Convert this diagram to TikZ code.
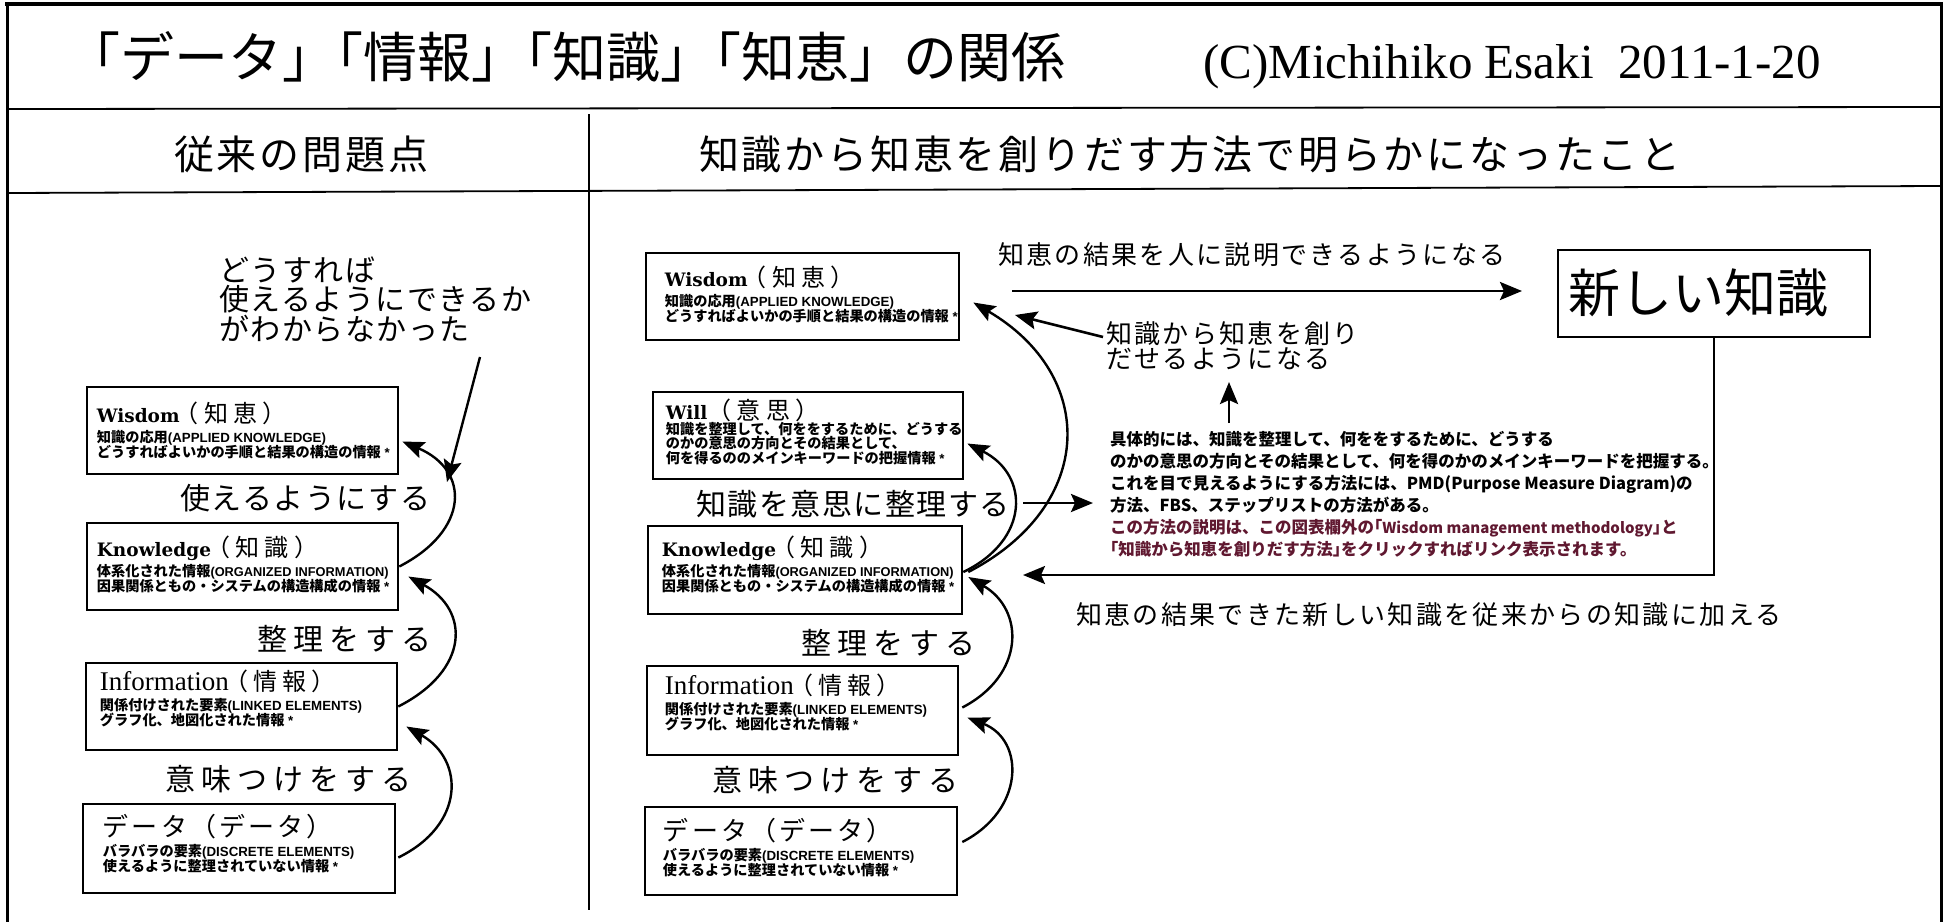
\documentclass[tikz,border=0pt]{standalone}
\usepackage{fontspec}
\setmainfont{Noto Sans CJK JP}
\newfontfamily\jp{Noto Sans CJK JP}
\newfontfamily\jpH[LetterSpace=7]{Noto Sans CJK JP}
\newfontfamily\jpA[LetterSpace=5]{Noto Sans CJK JP}
\newfontfamily\jpB[LetterSpace=20]{Noto Sans CJK JP}
\newfontfamily\jpC[LetterSpace=9]{Noto Sans CJK JP}
\newfontfamily\jpF[LetterSpace=12]{Noto Sans CJK JP}
\newfontfamily\jpP[LetterSpace=22]{Noto Sans CJK JP}
\newfontfamily\lserif{Liberation Serif}
\newfontfamily\dserif{DejaVu Serif}
\newfontfamily\lsans{Liberation Sans}
\usetikzlibrary{arrows.meta,calc}
\definecolor{descred}{RGB}{96,24,48}
\newcommand\fsz[1]{\fontsize{#1pt}{#1pt}\selectfont}
\newcommand\subf{\jp\bfseries\fsz{14.2}}
\newcommand\latb[1]{{\lsans\bfseries\fsz{13.3}#1}}
\newcommand\latn[1]{{\lsans\bfseries\fsz{12.8}#1}}
\newcommand\hk{\kern-.5em}
% title, line 1, line 2 of a box: 20pt from the title to line 1, 14.5pt between lines
\newcommand\boxc[3]{\vtop{\lineskiplimit=-1000pt\lineskip=0pt\baselineskip=20pt\hbox{#1}\hbox{\subf #2}\baselineskip=14.5pt\hbox{\subf #3}}}
\newcommand\bxparen[1]{{\jpP\fsz{24}\kern-.2em（#1）}}
\newcommand\bxtitle[2]{{\dserif\bfseries\fsz{18.5}#1}\bxparen{#2}}
\newcommand\bxinfo{{\lserif\fsz{27}Information}\bxparen{情報}}
\newcommand\bxdata{{\jpF\fsz{26}データ（データ）}}
\begin{document}
\begin{tikzpicture}[x=1pt,y=-1pt,
  kbox/.style={draw, line width=2.6pt, inner sep=0pt},
  txt/.style={inner sep=0pt},
  curv/.style={line width=2.4pt, -{Stealth[length=22pt,width=17pt,inset=4pt]}},
  sarr/.style={line width=2.8pt, -{Stealth[length=22pt,width=18pt,inset=4pt]}},
  rule/.style={line width=1.8pt}]
\fill[white] (0,0) rectangle (1948,921);
\useasboundingbox (0,0) rectangle (1948,921);
% frame and rules
\draw[line width=3pt] (7,930) -- (7,4) -- (1941,4) -- (1941,930);
\draw[line width=4pt] (5,3.5) -- (1943,3.5);
\draw[rule] (7,109) -- (1941,107);
\draw[rule] (7,193) -- (1941,186);
\draw[line width=1.4pt] (589,114) -- (589,910);
% headings
\node[txt, anchor=west] (title) at (66,57) {\jp\fsz{54}「データ」\hk「情報」\hk「知識」\hk「知恵」の関係};
\node[txt, anchor=base west] (copy) at (1203,78) {\lserif\fsz{49}(C)Michihiko Esaki\ \ 2011-1-20};
\node[txt, anchor=west] (hdL) at (174,154) {\jpH\fsz{40}従来の問題点};
\node[txt, anchor=west] (hdR) at (699,154) {\jpH\fsz{40}知識から知恵を創りだす方法で明らかになったこと};
% ---------- left panel ----------
\node[kbox, minimum width=311pt, minimum height=87pt] (wisL) at (242.5,430.5) {};
\node[kbox, minimum width=311pt, minimum height=87pt] (knL) at (242.5,566.5) {};
\node[kbox, minimum width=311pt, minimum height=87pt] (infL) at (241.5,706.5) {};
\node[kbox, minimum width=312pt, minimum height=89pt] (datL) at (239,848.5) {};
\node[txt, anchor=base west] (wisLt) at ($(wisL.north west)+(11,37)$) {\boxc{\bxtitle{Wisdom}{知恵}}{知識の応用\latb{(APPLIED KNOWLEDGE)}}{どうすればよいかの手順と結果の構造の情報\latb{ *}}};
\node[txt, anchor=base west] (knLt) at ($(knL.north west)+(11,35)$) {\boxc{\bxtitle{Knowledge}{知識}}{体系化された情報\latn{(ORGANIZED INFORMATION)}}{因果関係ともの・システムの構造構成の情報\latb{ *}}};
\node[txt, anchor=base west] (infLt) at ($(infL.north west)+(15,29)$) {\boxc{\bxinfo}{関係付けされた要素\latb{(LINKED ELEMENTS)}}{グラフ化、地図化された情報\latb{ *}}};
\node[txt, anchor=base west] (datLt) at ($(datL.north west)+(21,34)$) {\boxc{\bxdata}{バラバラの要素\latb{(DISCRETE ELEMENTS)}}{使えるように整理されていない情報\latb{ *}}};
\node[txt, anchor=base west] (qL) at (219,281) {\vtop{\jpA\fsz{30}\lineskiplimit=-1000pt\baselineskip=29.5pt\hbox{どうすれば}\hbox{使えるようにできるか}\hbox{がわからなかった}}};
\node[txt, anchor=west] (uL) at (180,498) {\jpA\fsz{30}使えるようにする};
\node[txt, anchor=west] (sL) at (257,639) {\jpB\fsz{30}整理をする};
\node[txt, anchor=west] (mL) at (165,779) {\jpB\fsz{30}意味つけをする};
\draw[curv] (knL.east) .. controls (470,530) and (470,470) .. ($(wisL.east)+(3,11)$);
\draw[curv] (infL.east) .. controls (470,670) and (470,610) .. ($(knL.east)+(9,10)$);
\draw[curv] ($(datL.east)+(2,9)$) .. controls (465,825) and (465,760) .. ($(infL.east)+(8,20)$);
\coordinate (qa) at (480,357);
\coordinate (qb) at (447,482);
\draw[sarr, line width=2.4pt] (qa) -- (qb);
% ---------- right panel ----------
\node[kbox, minimum width=313pt, minimum height=87pt] (wisR) at (802.5,296.5) {};
\node[kbox, minimum width=310pt, minimum height=87pt] (willR) at (808,435.5) {};
\node[kbox, minimum width=314pt, minimum height=88pt] (knR) at (805,570) {};
\node[kbox, minimum width=311pt, minimum height=89pt] (infR) at (802.5,710.5) {};
\node[kbox, minimum width=312pt, minimum height=88pt] (datR) at (801,851) {};
\node[txt, anchor=base west] (wisRt) at ($(wisR.north west)+(20,35)$) {\boxc{\bxtitle{Wisdom}{知恵}}{知識の応用\latb{(APPLIED KNOWLEDGE)}}{どうすればよいかの手順と結果の構造の情報\latb{ *}}};
\node[txt, anchor=base west] (willRt) at ($(willR.north west)+(14,29)$) {\vtop{\lineskiplimit=-1000pt\lineskip=0pt\baselineskip=21pt\hbox{{\dserif\bfseries\fsz{18.5}Will}{\jpP\fsz{24}（意思）}}\baselineskip=14.5pt\hbox{\subf 知識を整理して、何ををするために、どうする}\hbox{\subf のかの意思の方向とその結果として、}\hbox{\subf 何を得るののメインキーワードの把握情報\latb{ *}}}};
\node[txt, anchor=base west] (knRt) at ($(knR.north west)+(15,32)$) {\boxc{\bxtitle{Knowledge}{知識}}{体系化された情報\latn{(ORGANIZED INFORMATION)}}{因果関係ともの・システムの構造構成の情報\latb{ *}}};
\node[txt, anchor=base west] (infRt) at ($(infR.north west)+(19,30)$) {\boxc{\bxinfo}{関係付けされた要素\latb{(LINKED ELEMENTS)}}{グラフ化、地図化された情報\latb{ *}}};
\node[txt, anchor=base west] (datRt) at ($(datR.north west)+(19,35)$) {\boxc{\bxdata}{バラバラの要素\latb{(DISCRETE ELEMENTS)}}{使えるように整理されていない情報\latb{ *}}};
\node[txt, anchor=west] (eR) at (998,255) {\jpC\fsz{26}知恵の結果を人に説明できるようになる};
\node[txt, anchor=base west] (cR) at (1106,343) {\vtop{\jpC\fsz{26}\lineskiplimit=-1000pt\baselineskip=25pt\hbox{知識から知恵を創り}\hbox{だせるようになる}}};
\node[txt, anchor=west] (wR) at (696,504) {\jpA\fsz{30}知識を意思に整理する};
\node[txt, anchor=west] (sR) at (801,643) {\jpB\fsz{30}整理をする};
\node[txt, anchor=west] (mR) at (712,780) {\jpB\fsz{30}意味つけをする};
\node[txt, anchor=west] (aR) at (1076,615) {\jpC\fsz{26}知恵の結果できた新しい知識を従来からの知識に加える};
\node[kbox, minimum width=312pt, minimum height=87pt] (newK) at (1714,293.5) {};
\node[txt, anchor=west] (newKt) at (1568,293) {\jp\fsz{52}新しい知識};
\node[txt, anchor=base west] (desc) at (1110,445) {\vtop{\jp\bfseries\fsz{16.5}\lineskiplimit=-1000pt\baselineskip=22pt
 \hbox{具体的には、知識を整理して、何ををするために、どうする}
 \hbox{のかの意思の方向とその結果として、何を得のかのメインキーワードを把握する。}
 \hbox{これを目で見えるようにする方法には、PMD(Purpose Measure Diagram)の}
 \hbox{方法、FBS、ステップリストの方法がある。}
 \hbox{\color{descred}この方法の説明は、この図表欄外の\hk「{\fsz{15}Wisdom management methodology}」\hk と}
 \hbox{\color{descred}\hk「知識から知恵を創りだす方法」\hk をクリックすればリンク表示されます。}}};
% right curves
\draw[curv] ($(datR.east)+(4,-9)$) .. controls (1025,810) and (1025,740) .. ($(infR.east)+(8,7)$);
\draw[curv] ($(infR.east)+(3,-3)$) .. controls (1025,675) and (1025,610) .. ($(knR.east)+(5,7)$);
\draw[curv] ($(knR.east)+(0,2)$) .. controls (1030,540) and (1030,475) .. ($(willR.east)+(3,8)$);
\draw[curv] ($(knR.east)+(5,2)$) .. controls (1097,505) and (1097,375) .. ($(wisR.east)+(13,6)$);
% right straight arrows
\coordinate (e1) at (1012,291);
\coordinate (e2) at (1522,291);
\draw[sarr] (e1) -- (e2);
\coordinate (c1) at (1103,337);
\coordinate (c2) at (1015,315);
\draw[sarr, line width=2.6pt] (c1) -- (c2);
\coordinate (u1) at (1229,423);
\coordinate (u2) at (1229,382);
\draw[sarr] (u1) -- (u2);
\coordinate (r1) at (1023,503);
\coordinate (r2) at (1093,503);
\draw[sarr] (r1) -- (r2);
\coordinate (fb) at (1023,575);
\draw[sarr, line width=2.4pt] (newK.south) |- (fb);
\end{tikzpicture}
\end{document}
